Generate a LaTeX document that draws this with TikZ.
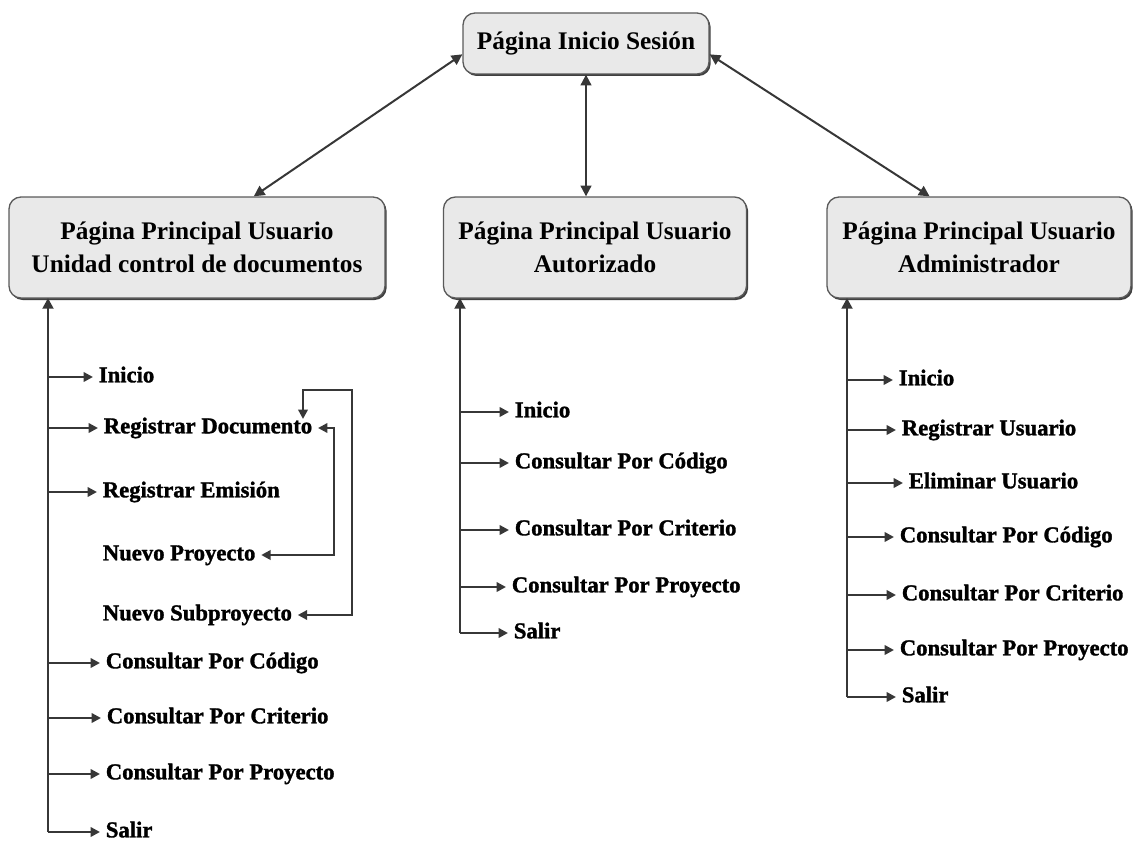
\documentclass[tikz,border=0pt]{standalone}
\usepackage{fontspec}
\setmainfont{Liberation Serif}[BoldFont={Liberation Serif Bold}]
\newfontfamily\itemfont{Liberation Serif Bold}[FakeBold=1.4]
\usetikzlibrary{arrows.meta,shadows}

\definecolor{boxfill}{RGB}{233,233,233}
\definecolor{boxline}{RGB}{90,90,90}
\definecolor{lineclr}{RGB}{55,55,55}

\tikzset{every picture/.style={line width=0.75pt}}
\tikzset{
  pagebox/.style={draw=boxline, fill=boxfill, rounded corners=9pt, line width=1pt,
    align=center, inner sep=2pt, font=\fontsize{19}{24.75}\selectfont\bfseries,
    drop shadow={shadow xshift=1.2pt, shadow yshift=-1.5pt, fill=black!75, opacity=1}},
  itemtxt/.style={anchor=west, inner xsep=4pt, inner ysep=0pt,
    font=\fontsize{17}{20}\selectfont\itemfont, execute at begin node=\strut},
  trunk/.style={draw=lineclr, line width=2.2pt, -{Triangle[length=8pt,width=8pt]}},
  branch/.style={draw=lineclr, line width=1.9pt, -{Triangle[length=7pt,width=7pt]}},
  loopline/.style={draw=lineclr, line width=1.8pt, {Triangle[length=7pt,width=7pt]}-{Triangle[length=7pt,width=7pt]}},
  link/.style={draw=lineclr, line width=1.5pt, {Triangle[length=8pt,width=8pt]}-{Triangle[length=8pt,width=8pt]}}
}

\begin{document}
\begin{tikzpicture}[x=0.75pt,y=0.75pt,yscale=-1,xscale=1]
\useasboundingbox (0,0) rectangle (1133,842);

%Shape: Rounded Rectangle [id:inicio]
\node (inicio) at (586,43.5) [pagebox, minimum width=184.5pt, minimum height=45.75pt] {Página Inicio Sesión};
%Shape: Rounded Rectangle [id:ucd]
\node (ucd) at (197,247.5) [pagebox, minimum width=282pt, minimum height=75.75pt] {Página Principal Usuario\\Unidad control de documentos};
%Shape: Rounded Rectangle [id:aut]
\node (aut) at (595,247.5) [pagebox, minimum width=227.25pt, minimum height=75.75pt] {Página Principal Usuario\\Autorizado};
%Shape: Rounded Rectangle [id:adm]
\node (adm) at (979,247.5) [pagebox, minimum width=228pt, minimum height=75.75pt] {Página Principal Usuario\\Administrador};

%Straight Lines [id:top links]
\draw [link] (inicio.185) -- (ucd.42.6) ;
\draw [link] (inicio.south) -- (inicio.south |- aut.north) ;
\draw [link] (inicio.-5.7) -- (adm.134) ;

% Text Node (left menu)
\node (l1) at (93,377) [itemtxt] {Inicio};
\node (l2) at (98,428) [itemtxt] {Registrar Documento};
\node (l3) at (97,492) [itemtxt] {Registrar Emisión};
\node (l4) at (97,555) [itemtxt] {Nuevo Proyecto};
\node (l5) at (97,615) [itemtxt] {Nuevo Subproyecto};
\node (l6) at (100,663) [itemtxt] {Consultar Por Código};
\node (l7) at (101,718) [itemtxt] {Consultar Por Criterio};
\node (l8) at (100,774) [itemtxt] {Consultar Por Proyecto};
\node (l9) at (100,832) [itemtxt] {Salir};

% Text Node (middle menu)
\node (m1) at (509,412) [itemtxt] {Inicio};
\node (m2) at (509,463) [itemtxt] {Consultar Por Código};
\node (m3) at (509,530) [itemtxt] {Consultar Por Criterio};
\node (m4) at (506,587) [itemtxt] {Consultar Por Proyecto};
\node (m5) at (508,633) [itemtxt] {Salir};

% Text Node (right menu)
\node (r1) at (893,380) [itemtxt] {Inicio};
\node (r2) at (896,430) [itemtxt] {Registrar Usuario};
\node (r3) at (903,483) [itemtxt] {Eliminar Usuario};
\node (r4) at (894,537) [itemtxt] {Consultar Por Código};
\node (r5) at (896,595) [itemtxt] {Consultar Por Criterio};
\node (r6) at (894,650) [itemtxt] {Consultar Por Proyecto};
\node (r7) at (896,697) [itemtxt] {Salir};

%Straight Lines [id:trunks]
\coordinate (ut) at (48,298);
\coordinate (mt) at (460,298);
\coordinate (rt) at (847,298);
\draw [trunk] (ut |- l9.west) -- (ut) ;
\draw [trunk] (mt |- m5.west) -- (mt) ;
\draw [trunk] (rt |- r7.west) -- (rt) ;

%Straight Lines [id:branches]
\foreach \n in {l1,l2,l3,l6,l7,l8,l9} {\draw [branch] (ut |- \n.west) -- (\n.west) ;}
\foreach \n in {m1,m2,m3,m4,m5} {\draw [branch] (mt |- \n.west) -- (\n.west) ;}
\foreach \n in {r1,r2,r3,r4,r5,r6,r7} {\draw [branch] (rt |- \n.west) -- (\n.west) ;}

%Straight Lines [id:loops]
\coordinate (innerx) at (334,0);
\coordinate (outertop) at (352,390);
\coordinate (rdtop) at (303,419);
\draw [loopline] (l4.east) -- (l4.east -| innerx) -- (innerx |- l2.east) -- (l2.east) ;
\draw [loopline] (l5.east) -- (l5.east -| outertop) -- (outertop) -- (rdtop |- outertop) -- (rdtop) ;

\end{tikzpicture}
\end{document}
